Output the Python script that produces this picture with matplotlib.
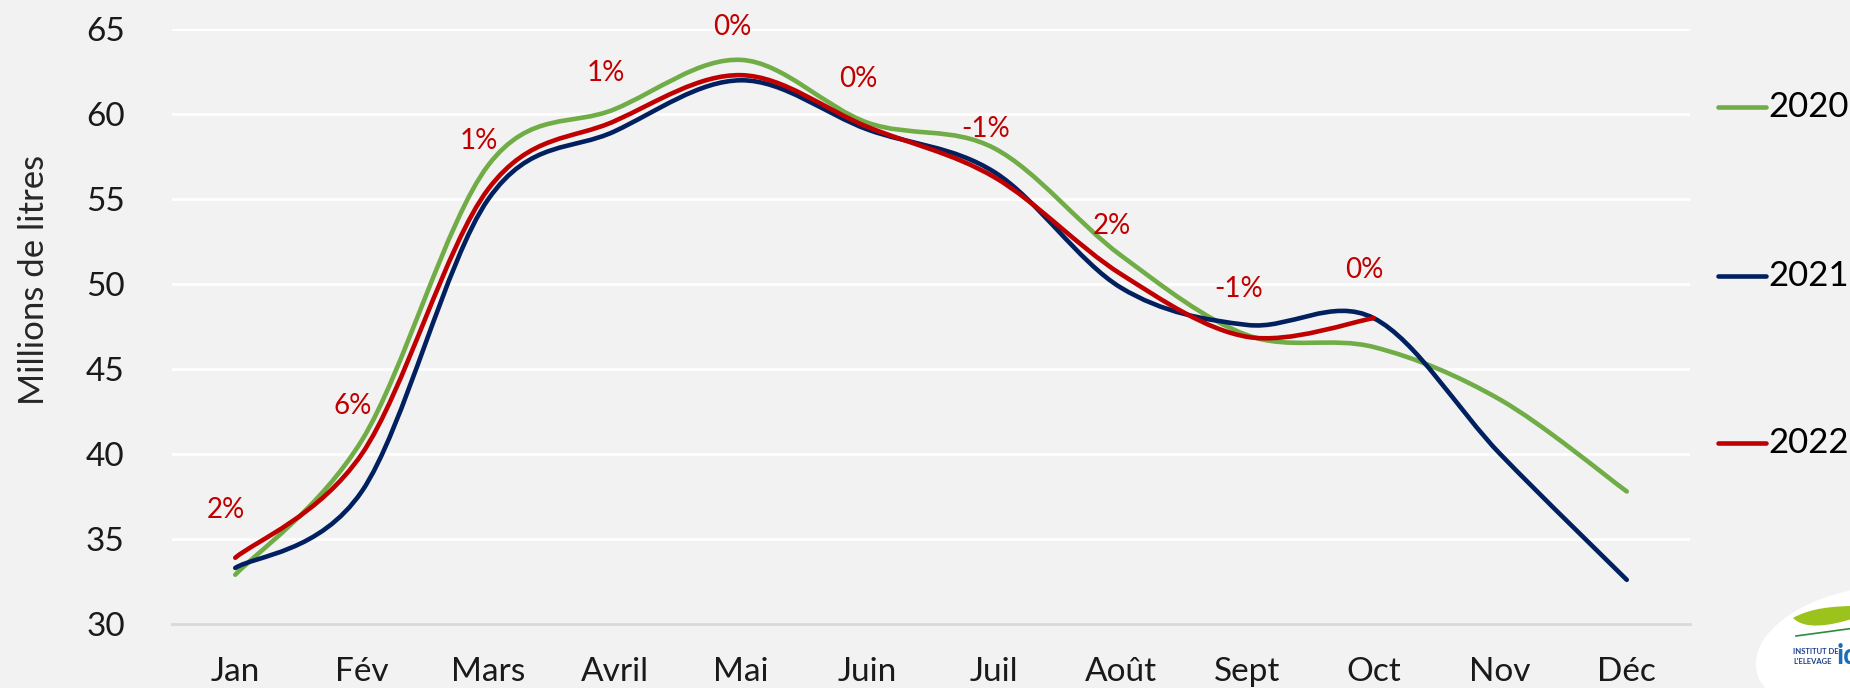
"""
Collecte mensuelle 2020-2022 (millions de litres), lignes lissees
avec l'evolution 2022/2021 en etiquettes
"""

import numpy as np
import matplotlib
matplotlib.use('Agg')
import matplotlib.pyplot as plt
from matplotlib.path import Path
from matplotlib.patches import PathPatch, Ellipse
from matplotlib.lines import Line2D

months = ['Jan', 'Fév', 'Mars', 'Avril', 'Mai', 'Juin',
          'Juil', 'Août', 'Sept', 'Oct', 'Nov', 'Déc']
v2020 = [32.9, 40.8, 57.0, 60.3, 63.2, 59.5, 58.0, 51.7, 47.0, 46.3, 43.2, 37.8]
v2021 = [33.3, 37.8, 55.0, 59.0, 62.0, 59.1, 56.6, 49.8, 47.6, 48.0, 40.0, 32.6]
v2022 = [33.9, 40.0, 55.6, 59.6, 62.3, 59.25, 56.3, 50.6, 46.9, 48.0]
evol_labels = ['2%', '6%', '1%', '1%', '0%', '0%', '-1%', '2%', '-1%', '0%']
years = ['2020', '2021', '2022']
colors = ['#70AD47', '#002060', '#C00000']

BG = '#F2F2F2'
FONT = ['Lato', 'DejaVu Sans']
plt.rcParams['font.family'] = FONT


def smooth_path(xs, ys) -> Path:
    '''
    Builds a smoothed (Excel like) bezier path through the points
    '''
    pts = np.column_stack([xs, ys]).astype(float)
    n = len(pts)
    verts = [pts[0]]
    codes = [Path.MOVETO]
    for i in range(n - 1):
        p0 = pts[i - 1] if i > 0 else pts[i]
        p1 = pts[i]
        p2 = pts[i + 1]
        p3 = pts[i + 2] if i + 2 < n else pts[i + 1]
        verts += [p1 + (p2 - p0) / 6, p2 - (p3 - p1) / 6, p2]
        codes += [Path.CURVE4] * 3
    return Path(verts, codes)


def main():
    fig = plt.figure(figsize=(18.5, 6.88), dpi=100, facecolor=BG)
    ax = fig.add_axes([172 / 1850, 1 - 624 / 688,
                       (1690 - 172) / 1850, (624 - 29.3) / 688])
    ax.set_facecolor(BG)

    series = [v2020, v2021, v2022]
    for vals, col in zip(series, colors):
        x = np.arange(len(vals))
        patch = PathPatch(smooth_path(x, vals), fill=False, edgecolor=col,
                          linewidth=3.3, capstyle='round', joinstyle='round',
                          zorder=3)
        ax.add_patch(patch)

    # evolution 2022 / 2021
    for i, lab in enumerate(evol_labels):
        ax.annotate(lab, (i, v2022[i]), xytext=(-9, 48),
                    textcoords='offset pixels', ha='center', va='center',
                    color='#C00000', fontsize=20, zorder=4)

    ax.set_xlim(-0.5, 11.5)
    ax.set_ylim(30, 65)
    ax.set_yticks(range(30, 66, 5))
    ax.set_xticks(range(len(months)))
    ax.set_xticklabels(months)
    ax.tick_params(length=0, labelsize=24, colors='#1a1a1a')
    ax.tick_params(axis='y', pad=34)
    ax.tick_params(axis='x', pad=24)
    ax.grid(axis='y', color='white', linewidth=2)
    ax.set_axisbelow(True)
    for side in ['top', 'right', 'left']:
        ax.spines[side].set_visible(False)
    ax.spines['bottom'].set_color('#D9D9D9')
    ax.spines['bottom'].set_linewidth(2)

    fig.text(34 / 1850, 1 - 280 / 688, 'Millions de litres', rotation=90,
             ha='center', va='center', fontsize=25, color='#262626')

    # legend on the right
    for yr, col, ypix in zip(years, colors, [107, 276, 443]):
        yf = 1 - ypix / 688
        fig.add_artist(Line2D([1718 / 1850, 1766 / 1850], [yf, yf],
                              color=col, linewidth=3.3,
                              solid_capstyle='round'))
        fig.text(1768 / 1850, yf, yr, ha='left', va='center',
                 fontsize=25, color='black')

    # idele logo (cut at the corner)
    fig.add_artist(Ellipse((18.75, 0.36), 2.4, 1.3, angle=8,
                           transform=fig.dpi_scale_trans,
                           facecolor='white', edgecolor='none'))
    swoosh = Path([(17.93, 0.70), (18.10, 0.80), (18.35, 0.82), (18.55, 0.82),
                   (18.55, 0.70), (18.30, 0.62), (18.05, 0.58), (17.93, 0.70)],
                  [Path.MOVETO, Path.CURVE4, Path.CURVE4, Path.CURVE4,
                   Path.LINETO, Path.CURVE4, Path.CURVE4, Path.CURVE4])
    fig.add_artist(PathPatch(swoosh, transform=fig.dpi_scale_trans,
                             facecolor='#9BC31C', edgecolor='none'))
    fig.add_artist(Line2D([17.96, 18.55], [0.52, 0.60],
                          transform=fig.dpi_scale_trans,
                          color='#2E8B3E', linewidth=1.2))
    fig.text(1793 / 1850, 1 - 652 / 688, "INSTITUT DE", fontsize=5.5,
             fontweight='bold', color='#1B3F8B', va='center')
    fig.text(1793 / 1850, 1 - 661 / 688, "L'ELEVAGE", fontsize=5.5,
             fontweight='bold', color='#1B3F8B', va='center')
    fig.text(1837 / 1850, 1 - 656 / 688, "idele", fontsize=20,
             fontweight='bold', color='#1B6EB5', va='center')

    fig.savefig('out.png', dpi=100, facecolor=BG)


if __name__ == "__main__":
    main()
